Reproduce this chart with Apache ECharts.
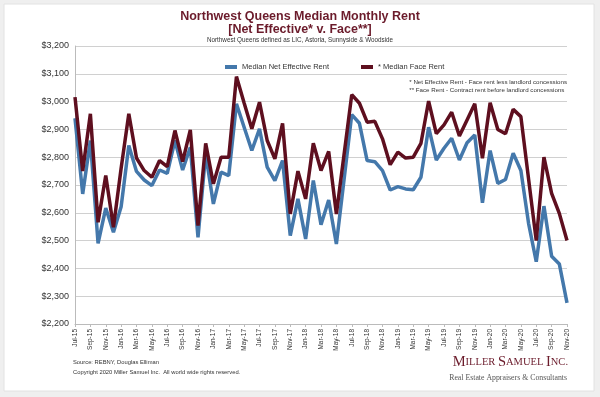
<!DOCTYPE html>
<html>
<head>
<meta charset="utf-8">
<script src="https://cdn.jsdelivr.net/npm/echarts@6/dist/echarts.min.js"></script>
<style>
  html, body { margin: 0; padding: 0; background: #efefef; }
  #chart { width: 600px; height: 397px; }
</style>
</head>
<body>
<div id="chart"></div>
<script>
// months Jul-15 .. Nov-20
const monthNames = ['Jan', 'Feb', 'Mar', 'Apr', 'May', 'Jun', 'Jul', 'Aug', 'Sep', 'Oct', 'Nov', 'Dec']
const months = []
for (let y = 15; y <= 20; y++) {
  for (let m = 0; m < 12; m++) {
    if (y === 15 && m < 6) continue
    if (y === 20 && m > 10) continue
    months.push(monthNames[m] + '-' + y)
  }
}

const netEffective = [
  2940, 2668, 2860, 2490, 2617, 2530, 2622, 2842, 2749, 2718, 2698, 2754, 2742, 2860, 2754, 2836,
  2512, 2812, 2632, 2746, 2734, 2992, 2908, 2824, 2902, 2764, 2716, 2788, 2518, 2650, 2506, 2716,
  2557, 2646, 2488, 2720, 2953, 2922, 2788, 2784, 2752, 2682, 2694, 2686, 2683, 2728, 2908, 2790,
  2832, 2868, 2790, 2852, 2880, 2636, 2824, 2706, 2720, 2814, 2752, 2562, 2424, 2624, 2444, 2416,
  2276
]
const faceRent = [
  3016, 2750, 2956, 2566, 2734, 2548, 2760, 2956, 2797, 2752, 2728, 2788, 2766, 2896, 2784, 2898,
  2554, 2850, 2704, 2800, 2800, 3090, 2995, 2902, 2998, 2860, 2794, 2922, 2596, 2750, 2650, 2850,
  2752, 2821, 2596, 2810, 3025, 2994, 2926, 2929, 2866, 2773, 2818, 2797, 2800, 2850, 3002, 2885,
  2916, 2962, 2876, 2934, 2992, 2796, 2996, 2900, 2884, 2972, 2946, 2722, 2500, 2800, 2670, 2598,
  2500
]

const chart = echarts.init(document.getElementById('chart'))
const sans = 'Liberation Sans, Arial, sans-serif'
const serif = 'Liberation Serif, Times New Roman, serif'
const maroon = '#5e0f1f'
const blue = '#4478ab'

chart.setOption({
  backgroundColor: '#efefef',
  animation: false,
  textStyle: { fontFamily: sans },
  graphic: [
    { type: 'rect', z: -10, shape: { x: 4, y: 4, width: 590, height: 387 },
      style: { fill: '#ffffff', stroke: '#e2e2e2', lineWidth: 1 } },
    { type: 'text', left: 'center', top: 10,
      style: { text: 'Northwest Queens Median Monthly Rent', fill: '#6b1b2b', font: 'bold 12.5px ' + sans } },
    { type: 'text', left: 'center', top: 23,
      style: { text: '[Net Effective* v. Face**]', fill: '#6b1b2b', font: 'bold 12.5px ' + sans } },
    { type: 'text', left: 'center', top: 37,
      style: { text: 'Northwest Queens defined as LIC, Astoria, Sunnyside & Woodside', fill: '#333',
        font: '6.3px ' + sans } },
    { type: 'text', right: 33, top: 78,
      style: { text: '* Net Effective Rent - Face rent less landlord concessions\n** Face Rent - Contract rent before landlord concessions',
        fill: '#333', font: '6.2px ' + sans, lineHeight: 8 } },
    { type: 'text', left: 73, top: 359,
      style: { text: 'Source: REBNY, Douglas Elliman', fill: '#333', font: '5.8px ' + sans } },
    { type: 'text', left: 73, top: 369,
      style: { text: 'Copyright 2020 Miller Samuel Inc.  All world wide rights reserved.', fill: '#333', font: '5.8px ' + sans } },
    { type: 'text', right: 32, top: 355,
      style: {
        text: '{b|M}{s|ILLER }{b|S}{s|AMUEL }{b|I}{s|NC.}',
        rich: {
          b: { fontFamily: serif, fontSize: 14.5, fill: '#6b1b2b' },
          s: { fontFamily: serif, fontSize: 10.5, fill: '#6b1b2b' }
        }
      } },
    { type: 'text', right: 33, top: 374,
      style: { text: 'Real Estate Appraisers & Consultants', fill: '#555', font: '7.8px ' + serif } }
  ],
  legend: {
    top: 58, left: 220, itemGap: 32, itemWidth: 12, itemHeight: 4,
    icon: 'rect',
    textStyle: { fontSize: 7.5, color: '#333' },
    data: ['Median Net Effective Rent', '* Median Face Rent']
  },
  grid: { left: 75, right: 33, top: 46, bottom: 73 },
  xAxis: {
    type: 'category',
    data: months,
    boundaryGap: false,
    axisLine: { lineStyle: { color: '#bbb' } },
    axisTick: { interval: 1, length: 3, lineStyle: { color: '#bbb' } },
    axisLabel: { interval: 1, rotate: 90, fontSize: 6.5, color: '#333', margin: 5 }
  },
  yAxis: {
    type: 'value',
    min: 2200, max: 3200, interval: 100,
    axisLine: { show: true, lineStyle: { color: '#bbb' } },
    axisTick: { show: false },
    splitLine: { lineStyle: { color: '#d0d0d0' } },
    axisLabel: {
      fontSize: 9, color: '#333', margin: 6,
      formatter: v => '$' + v.toLocaleString('en-US')
    }
  },
  series: [
    { name: 'Median Net Effective Rent', type: 'line', data: netEffective, showSymbol: false,
      lineStyle: { color: blue, width: 3.5 }, itemStyle: { color: blue } },
    { name: '* Median Face Rent', type: 'line', data: faceRent, showSymbol: false,
      lineStyle: { color: maroon, width: 3.5 }, itemStyle: { color: maroon } }
  ]
})
</script>
</body>
</html>
